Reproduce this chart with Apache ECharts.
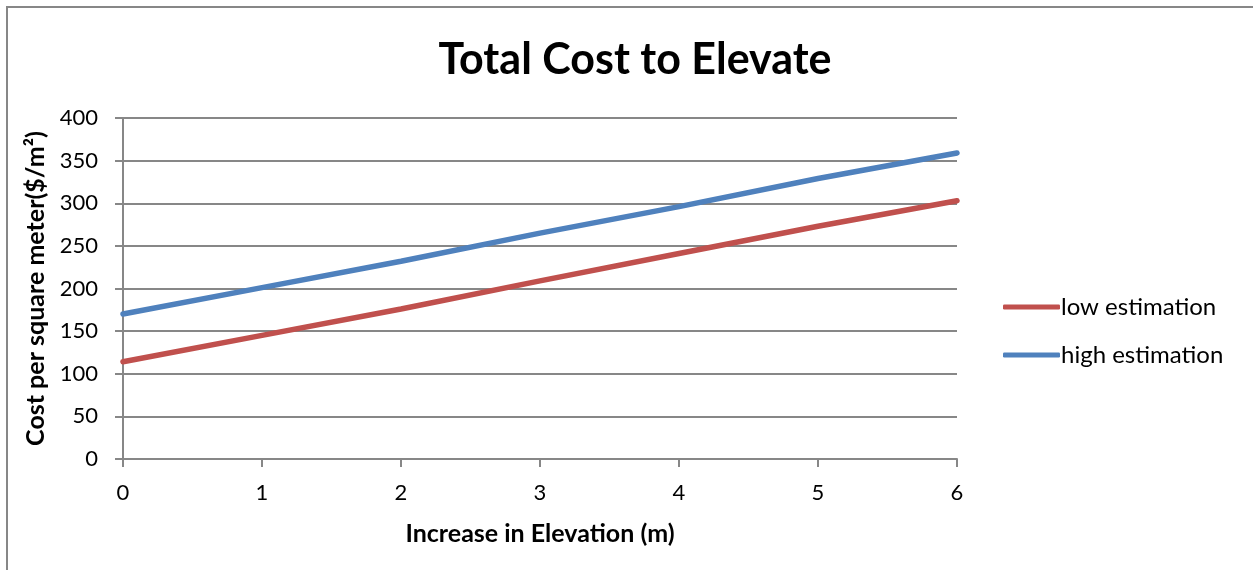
<!DOCTYPE html>
<html>
<head>
<meta charset="utf-8">
<title>Total Cost to Elevate</title>
<script src="https://cdn.jsdelivr.net/npm/echarts@6/dist/echarts.min.js"></script>
<style>
  html, body { margin: 0; padding: 0; background: #fff; }
  #chart { width: 1253px; height: 570px; }
</style>
</head>
<body>
<div id="chart"></div>
<script>
// Elevation increase (m) and the estimated cost per square metre at each step
const elevation = [0, 1, 2, 3, 4, 5, 6];
const lowEstimation = [114, 145, 176, 209, 241, 273, 303];
const highEstimation = [170, 201, 232, 265, 296, 329, 359];
const seriesNames = ['low estimation', 'high estimation'];

const FONT = 'Lato, "Open Sans", sans-serif';
const GRID = '#878787';

const chart = echarts.init(document.getElementById('chart'), null, { renderer: 'canvas' });

chart.setOption({
  animation: false,
  backgroundColor: '#fff',
  textStyle: { fontFamily: FONT },
  title: {
    text: 'Total Cost to Elevate',
    left: 630,
    textAlign: 'center',
    top: 34,
    textStyle: { fontFamily: FONT, fontSize: 43, fontWeight: 'bold', color: '#000' }
  },
  graphic: [{
    type: 'rect',
    silent: true,
    shape: { x: 7, y: 7, width: 1300, height: 600 },
    style: { fill: 'none', stroke: GRID, lineWidth: 2 }
  }],
  legend: {
    orient: 'vertical',
    left: 998,
    top: 290,
    itemWidth: 57,
    itemHeight: 5,
    itemGap: 24,
    icon: 'roundRect',
    textStyle: { fontFamily: FONT, fontSize: 24, color: '#000', padding: [0, 0, 0, -4] },
    data: seriesNames
  },
  grid: { left: 123, right: 296, top: 118, bottom: 111, containLabel: false },
  xAxis: {
    type: 'value',
    min: 0,
    max: 6,
    interval: 1,
    name: 'Increase in Elevation (m)',
    nameLocation: 'middle',
    nameGap: 62,
    nameTextStyle: { fontFamily: FONT, fontSize: 25, fontWeight: 'bold', color: '#000' },
    axisLine: { lineStyle: { color: GRID, width: 2 } },
    axisTick: { show: true, length: 8, lineStyle: { color: GRID, width: 2 } },
    axisLabel: { fontFamily: FONT, fontSize: 22, color: '#000', margin: 23 },
    splitLine: { show: false }
  },
  yAxis: {
    type: 'value',
    min: 0,
    max: 400,
    interval: 50,
    name: 'Cost per square meter($/m²)',
    nameLocation: 'middle',
    nameGap: 74,
    nameTextStyle: { fontFamily: FONT, fontSize: 25, fontWeight: 'bold', color: '#000' },
    axisLine: { show: true, lineStyle: { color: GRID, width: 2 } },
    axisTick: { show: true, length: 8, lineStyle: { color: GRID, width: 2 } },
    axisLabel: { fontFamily: FONT, fontSize: 22, color: '#000', margin: 25 },
    splitLine: { show: true, lineStyle: { color: GRID, width: 2 } }
  },
  series: [
    {
      name: seriesNames[0],
      type: 'line',
      data: elevation.map((x, i) => [x, lowEstimation[i]]),
      symbol: 'none',
      color: '#C0504D',
      lineStyle: { width: 5.5, cap: 'round' }
    },
    {
      name: seriesNames[1],
      type: 'line',
      data: elevation.map((x, i) => [x, highEstimation[i]]),
      symbol: 'none',
      color: '#4F81BD',
      lineStyle: { width: 5.5, cap: 'round' }
    }
  ]
});
</script>
</body>
</html>
